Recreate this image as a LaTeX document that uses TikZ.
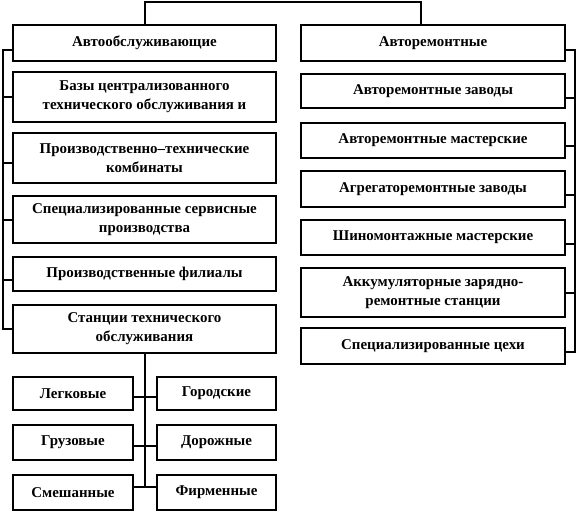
\documentclass[tikz,border=0pt]{standalone}
\usepackage{fontspec}
\setmainfont{Liberation Serif}
\begin{document}
\begin{tikzpicture}[x=1bp,y=-1bp,
  box/.style={draw=black,line width=2bp,fill=white,inner sep=0pt,align=center,font=\bfseries\fontsize{15}{19}\selectfont},
  wire/.style={line width=2bp,black}]
\useasboundingbox (0,0) rectangle (578,515);
% helper: box by corners
\newcommand{\mybox}[6]{\node[box,minimum width=#4-#2,minimum height=#5-#3] (#1) at ({(#2+#4)/2},{(#3+#5)/2}) {#6};}
\mybox{A1}{13}{25}{276}{61}{Автообслуживающие}
\mybox{A2}{13}{72}{276}{122}{Базы централизованного\\технического  обслуживания и}
\mybox{A3}{13}{133}{276}{183}{Производственно–технические\\комбинаты}
\mybox{A4}{13}{196}{276}{243}{Специализированные сервисные\\производства}
\mybox{A5}{13}{257}{276}{291}{Производственные филиалы}
\mybox{A6}{13}{305}{276}{353}{Станции технического\\обслуживания}
\mybox{R1}{301}{25}{565}{61}{Авторемонтные}
\mybox{R2}{301}{74}{565}{108}{Авторемонтные заводы}
\mybox{R3}{301}{123}{565}{158}{Авторемонтные мастерские}
\mybox{R4}{301}{171}{565}{207}{Агрегаторемонтные заводы}
\mybox{R5}{301}{220}{565}{255}{Шиномонтажные мастерские}
\mybox{R6}{301}{268}{565}{317}{Аккумуляторные  зарядно-\\ремонтные станции}
\mybox{R7}{301}{328}{565}{364}{Специализированные цехи}
\mybox{B1}{13}{377}{133}{410}{Легковые}
\mybox{B2}{13}{425}{133}{460}{Грузовые}
\mybox{B3}{13}{475}{133}{510}{Смешанные}
\mybox{C1}{157}{377}{276}{410}{Городские}
\mybox{C2}{157}{425}{276}{460}{Дорожные}
\mybox{C3}{157}{475}{276}{510}{Фирменные}
% top connector
\coordinate (T) at (145,2);
\coordinate (TR) at (421,2);
\draw[wire] (A1.north -| T) -- (T) -- (TR) -- (R1.north -| TR);
% left bus
\coordinate (LT) at (3,50);
\coordinate (LB) at (3,329);
\draw[wire] (A1.west |- LT) -- (LT) -- (LB) -- (A6.west |- LB);
\draw[wire] (A2.west) -- (A2.west -| LT);
\draw[wire] ([yshift=-5bp]A3.west) -- ([yshift=-5bp]A3.west -| LT);
\draw[wire] (A4.west) -- (A4.west -| LT);
\draw[wire] ([yshift=-6bp]A5.west) -- ([yshift=-6bp]A5.west -| LT);
% right bus
\coordinate (RT) at (575,50);
\coordinate (RB) at (575,352);
\draw[wire] (R1.east |- RT) -- (RT) -- (RB) -- (R7.east |- RB);
\draw[wire] ([yshift=-7bp]R2.east) -- ([yshift=-7bp]R2.east -| RT);
\draw[wire] ([yshift=-6bp]R3.east) -- ([yshift=-6bp]R3.east -| RT);
\draw[wire] ([yshift=-6bp]R4.east) -- ([yshift=-6bp]R4.east -| RT);
\draw[wire] ([yshift=-6bp]R5.east) -- ([yshift=-6bp]R5.east -| RT);
\draw[wire] (R6.east) -- (R6.east -| RT);
% bottom tree
\coordinate (CB) at (145,487);
\draw[wire] (A6.south -| CB) -- (CB);
\draw[wire] ([yshift=-3bp]B1.east) -- ([yshift=-3bp]C1.west);
\draw[wire] ([yshift=-3bp]B2.east) -- ([yshift=-3bp]C2.west);
\draw[wire] (B3.east |- CB) -- (C3.west |- CB);
\end{tikzpicture}
\end{document}
